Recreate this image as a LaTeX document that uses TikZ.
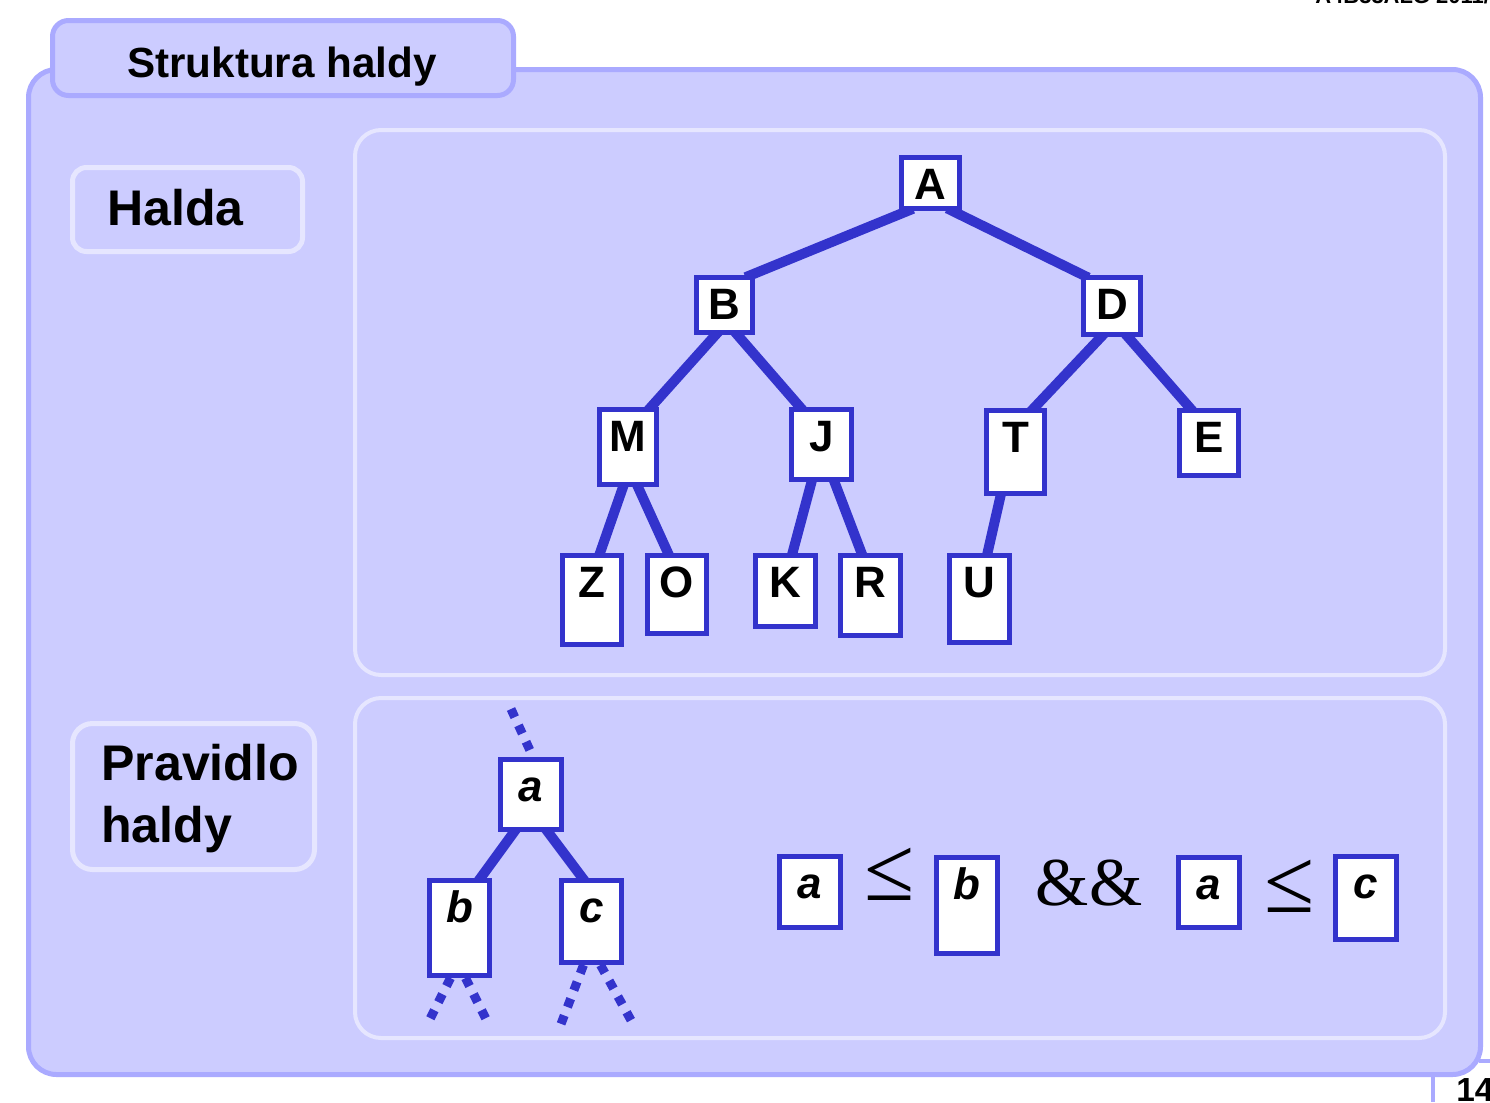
\documentclass[tikz,border=0pt]{standalone}
\usepackage{fontspec}
\setmainfont{Liberation Sans}
\newfontfamily\timesfont{Liberation Serif}
\usetikzlibrary{calc,backgrounds}
\definecolor{panel}{RGB}{204,204,255}
\definecolor{panelrim}{RGB}{170,170,255}
\definecolor{innerrim}{RGB}{230,230,255}
\definecolor{heapblue}{RGB}{51,51,204}
\newlength\unitpx
\setlength\unitpx{0.02cm}

\begin{document}
\begin{tikzpicture}[x=0.02cm, y=-0.02cm,
  key/.style={draw=heapblue, fill=white, line width=5\unitpx, inner sep=0pt,
    anchor=north west, minimum width=58\unitpx, text height=42\unitpx,
    font=\fontsize{25}{30}\selectfont\bfseries},
  var/.style={key, font=\fontsize{25}{30}\selectfont\bfseries\itshape},
  edge/.style={heapblue, line width=10\unitpx, shorten <=-6\unitpx, shorten >=-6\unitpx},
  stub/.style={heapblue, line width=9\unitpx, dash pattern=on 9\unitpx off 9\unitpx},
  outerpanel/.style={fill=panel, draw=panelrim, line width=5\unitpx},
  innerpanel/.style={draw=innerrim, line width=5\unitpx},
  heading/.style={inner sep=0pt, font=\fontsize{24}{29}\selectfont\bfseries},
  sidenote/.style={inner sep=0pt, font=\fontsize{28.5}{35.3}\selectfont\bfseries},
  relation/.style={inner sep=0pt, anchor=base, font=\timesfont\fontsize{52}{56}\selectfont}
]
\useasboundingbox (0,0) rectangle (1490,1102);

% frame and panels
\begin{scope}[on background layer]
\draw[outerpanel, rounded corners=28\unitpx] (28.5,69.5) rectangle (1480.5,1074.5);
\draw[outerpanel, rounded corners=16\unitpx] (52.5,20.5) rectangle (513.5,95.5);
\draw[innerpanel, rounded corners=14\unitpx] (72.5,167.5) rectangle (302.5,251.5);
\draw[innerpanel, rounded corners=20\unitpx] (72.5,723.5) rectangle (314.5,869.5);
\draw[innerpanel, line width=4\unitpx, rounded corners=26\unitpx] (355,130) rectangle (1445,675);
\draw[innerpanel, line width=4\unitpx, rounded corners=26\unitpx] (355,698) rectangle (1445,1038);
\end{scope}
\draw[panelrim, line width=4\unitpx] (1433,1074) -- (1433,1102);
\draw[panelrim, line width=4\unitpx] (1479,1061) -- (1490,1061);

\node[anchor=base west, inner sep=0pt, font=\fontsize{12.5}{14}\selectfont\bfseries] (runhead) at (1315,4) {A4B33ALG 2011/06};
\node[anchor=base west, inner sep=0pt, font=\fontsize{19}{22}\selectfont\bfseries] (pageno) at (1456,1101) {14};

\node[heading, anchor=base] (title) at (282,77) {Struktura haldy};
\node[sidenote, anchor=base west] (halda) at (107,225) {Halda};
\node[sidenote, anchor=north west, align=left] (rule) at (101,744) {Pravidlo\\haldy};

% the heap
\node[key, text depth=9\unitpx] (A) at (899,155) {A};
\node[key, text depth=13\unitpx, minimum width=56\unitpx] (B) at (694,275) {B};
\node[key, text depth=15\unitpx, minimum width=57\unitpx] (D) at (1081,275) {D};
\node[key, text depth=33\unitpx, minimum width=57\unitpx] (M) at (597,407) {M};
\node[key, text depth=28\unitpx, minimum width=60\unitpx] (J) at (789,407) {J};
\node[key, text depth=41\unitpx] (T) at (984,408) {T};
\node[key, text depth=23\unitpx, minimum width=59\unitpx] (E) at (1177,408) {E};
\node[key, text depth=47\unitpx, minimum width=59\unitpx] (Z) at (560,553) {Z};
\node[key, text depth=36\unitpx, minimum width=59\unitpx] (O) at (645,553) {O};
\node[key, text depth=29\unitpx, minimum width=60\unitpx] (K) at (753,553) {K};
\node[key, text depth=38\unitpx, minimum width=60\unitpx] (R) at (838,553) {R};
\node[key, text depth=45\unitpx, minimum width=60\unitpx] (U) at (947,553) {U};

% the rule
\node[var, text depth=28\unitpx, minimum width=61\unitpx] (a) at (498,757) {a};
\node[var, text depth=53\unitpx, minimum width=60\unitpx] (b) at (427,878) {b};
\node[var, text depth=40\unitpx, minimum width=60\unitpx] (c) at (559,878) {c};
\coordinate (up) at (511,709);
\coordinate (bl) at (427,1025);
\coordinate (br) at (487,1021);
\coordinate (cl) at (561,1024);
\coordinate (cr) at (632,1022);

\node[var, text depth=29\unitpx, minimum width=61\unitpx] (a1) at (777,854) {a};
\node[relation] (le1) at (890,900) {≤};
\node[var, text depth=54\unitpx, minimum width=61\unitpx] (b1) at (934,855) {b};
\node[relation, font=\timesfont\fontsize{39}{44}\selectfont] (amp) at (1089,905) {\&\&};
\node[var, text depth=28\unitpx, minimum width=61\unitpx] (a2) at (1176,855) {a};
\node[relation] (le2) at (1290,912) {≤};
\node[var, text depth=41\unitpx, minimum width=61\unitpx] (c1) at (1333,854) {c};

\begin{scope}[on background layer]
\draw[edge] ($(A.south)+(-23,0)$) -- ($(B.north east)+(-4,0)$);
\draw[edge] ($(A.south)+(22,0)$) -- ($(D.north west)+(2,0)$);
\draw[edge] ($(B.south)+(-9,0)$) -- ($(M.north east)+(-8,0)$);
\draw[edge] ($(B.south)+(13,0)$) -- ($(J.north west)+(11,0)$);
\draw[edge] ($(D.south)+(-11,0)$) -- ($(T.north east)+(-13,0)$);
\draw[edge] ($(D.south)+(16,0)$) -- ($(E.north west)+(13,0)$);
\draw[edge] ($(M.south)+(-5,0)$) -- ($(Z.north)+(8,0)$);
\draw[edge] ($(M.south)+(10,0)$) -- ($(O.north)+(-9,0)$);
\draw[edge] ($(J.south)+(-10,0)$) -- ($(K.north)+(7,0)$);
\draw[edge] ($(J.south)+(13,0)$) -- ($(R.north)+(-9,0)$);
\draw[edge] ($(T.south)+(-15,0)$) -- ($(U.north)+(8,0)$);
\draw[edge] ($(a.south)+(-17,0)$) -- ($(b.north)+(21,0)$);
\draw[edge] ($(a.south)+(17,0)$) -- ($(c.north)+(-9,0)$);
\draw[stub] (up) -- ($(a.north)+(2,0)$);
\draw[stub] ($(b.south)+(-9,0)$) -- (bl);
\draw[stub] ($(b.south)+(6,0)$) -- (br);
\draw[stub] ($(c.south)+(-8,0)$) -- (cl);
\draw[stub] ($(c.south)+(9,0)$) -- (cr);
\end{scope}
\end{tikzpicture}
\end{document}
